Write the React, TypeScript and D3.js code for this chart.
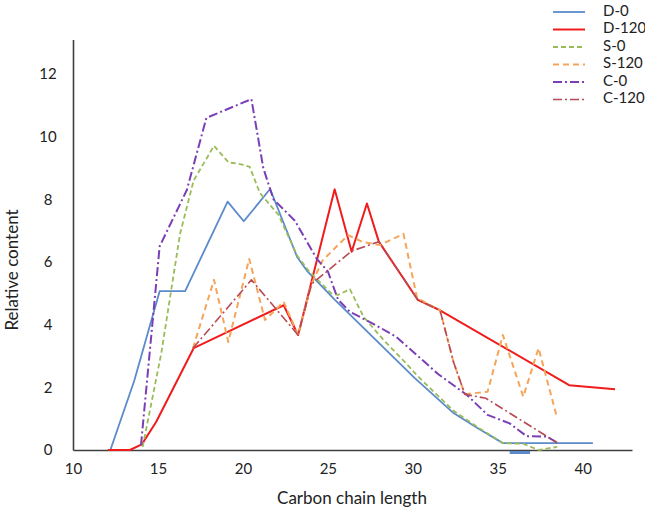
import React, { useRef, useEffect } from 'react';
import * as d3 from 'd3';

// series values: [carbon chain length, relative content]
const d0 = [
  [12.2, 0], [13.6, 2.2], [15.1, 5.07], [16.6, 5.07], [19.1, 7.93], [20.05, 7.3],
  [21.6, 8.33], [23.2, 6.15], [23.8, 5.7], [25.4, 4.8], [30.1, 2.3], [32.35, 1.2],
  [33.8, 0.7], [35.3, 0.22], [40.6, 0.22],
];
const d0Stub = [[35.7, -0.08], [36.9, -0.08]];
const d120 = [
  [12.05, 0], [13.35, 0], [14.05, 0.18], [14.9, 0.9], [17.1, 3.25], [22.4, 4.62],
  [23.25, 3.67], [25.4, 8.32], [26.4, 6.33], [27.3, 7.87], [28.0, 6.65], [30.3, 4.79],
  [31.6, 4.46], [39.2, 2.07], [41.9, 1.94],
];
const s0 = [
  [14.1, 0.1], [15.2, 3.1], [16.3, 6.9], [17.1, 8.6], [18.3, 9.71], [19.15, 9.18],
  [19.9, 9.12], [20.4, 9.04], [21.0, 8.2], [22.1, 7.5], [23.2, 6.2], [23.9, 5.7],
  [25.2, 5.0], [25.6, 4.95], [26.3, 5.13], [27.1, 4.25], [28.3, 3.5], [29.6, 2.77],
  [30.3, 2.35], [32.4, 1.25], [33.9, 0.7], [35.3, 0.22], [36.5, 0.2], [37.4, 0],
  [38.5, 0.1],
];
const s120 = [
  [17.06, 3.25], [18.3, 5.43], [19.14, 3.45], [20.37, 6.1], [21.3, 4.15], [22.4, 4.73],
  [23.25, 3.67], [24.04, 5.3], [24.7, 6.06], [26.2, 6.86], [27.0, 6.65], [28.06, 6.54],
  [29.45, 6.9], [30.25, 4.85], [31.6, 4.46], [32.4, 2.8], [33.06, 1.78], [34.4, 1.86],
  [35.3, 3.67], [36.5, 1.7], [37.4, 3.25], [38.5, 1.01],
];
const c0 = [
  [14.0, 0.15], [15.1, 6.5], [16.7, 8.3], [17.85, 10.6], [20.5, 11.2], [21.2, 9.0],
  [21.8, 8.0], [23.06, 7.32], [24.35, 6.1], [25.0, 5.7], [25.6, 4.8], [26.3, 4.41],
  [27.7, 4.02], [29.0, 3.62], [29.9, 3.19], [31.5, 2.42], [33.2, 1.75], [34.4, 1.12],
  [35.7, 0.85], [36.7, 0.44], [37.9, 0.43], [38.5, 0.23],
];
const c120 = [
  [17.06, 3.25], [20.5, 5.43], [23.25, 3.67], [24.04, 5.3], [26.4, 6.35], [28.0, 6.65],
  [30.3, 4.79], [31.6, 4.46], [32.4, 2.8], [33.06, 1.78], [34.3, 1.65], [38.5, 0.23],
];

const names = ['D-0', 'D-120', 'S-0', 'S-120', 'C-0', 'C-120'];
const seriesData = [d0, d120, s0, s120, c0, c120];
const colors = ['#5b8bcb', '#f01c1c', '#9bbb59', '#f5a55a', '#7a3fb5', '#b84a55'];
const dashes = [null, null, '5,3', '6,4', '9,3,2,3', '9,3,2,3'];
const widths = [1.8, 2, 1.8, 2, 2, 1.6];
const xTicks = [10, 15, 20, 25, 30, 35, 40];
const yTicks = [0, 2, 4, 6, 8, 10, 12];

const width = 645;
const height = 514;
const font = 'Lato, "Open Sans", sans-serif';

const App = () => {
  const ref = useRef(null);

  useEffect(() => {
    document.body.style.margin = '0';
    const svg = d3.select(ref.current);
    svg.selectAll('*').remove();

    const x = d3.scaleLinear().domain([10, 42.9]).range([73, 632]);
    const y = d3.scaleLinear().domain([0, 13.1]).range([450, 39.6]);

    // axes, no tick marks
    const xAxis = svg
      .append('g')
      .attr('transform', `translate(0,${y(0)})`)
      .call(d3.axisBottom(x).tickValues(xTicks).tickSize(0).tickPadding(13));
    const yAxis = svg
      .append('g')
      .attr('transform', `translate(${x(10)},0)`)
      .call(d3.axisLeft(y).tickValues(yTicks).tickSize(0).tickPadding(18));

    [xAxis, yAxis].forEach(a => {
      a.select('.domain').attr('stroke', '#404040').attr('stroke-width', 1.6);
      a.selectAll('text')
        .attr('fill', '#222')
        .style('font-family', font)
        .style('font-size', '15px');
    });
    yAxis.selectAll('text').attr('text-anchor', 'middle').attr('dx', '-7');

    const line = d3
      .line()
      .x(d => x(d[0]))
      .y(d => y(d[1]));

    seriesData.forEach((data, i) => {
      svg
        .append('path')
        .datum(data)
        .attr('d', line)
        .attr('fill', 'none')
        .attr('stroke', colors[i])
        .attr('stroke-width', widths[i])
        .attr('stroke-linejoin', 'round')
        .attr('stroke-dasharray', dashes[i]);
    });

    // short blue piece just under the axis
    svg
      .append('path')
      .datum(d0Stub)
      .attr('d', line)
      .attr('fill', 'none')
      .attr('stroke', colors[0])
      .attr('stroke-width', 3);

    // titles
    svg
      .append('text')
      .attr('x', 352)
      .attr('y', 500)
      .attr('text-anchor', 'middle')
      .attr('dominant-baseline', 'middle')
      .style('font-family', font)
      .style('font-size', '17px')
      .attr('fill', '#222')
      .text('Carbon chain length');

    svg
      .append('text')
      .attr('transform', 'translate(14,270) rotate(-90)')
      .attr('text-anchor', 'middle')
      .attr('dominant-baseline', 'middle')
      .style('font-family', font)
      .style('font-size', '17px')
      .attr('fill', '#222')
      .text('Relative content');

    // legend
    const legend = svg.append('g').attr('transform', 'translate(553,12)');
    names.forEach((name, i) => {
      const row = legend.append('g').attr('transform', `translate(0,${i * 17.5})`);
      row
        .append('line')
        .attr('x1', 0)
        .attr('x2', 32)
        .attr('stroke', colors[i])
        .attr('stroke-width', widths[i])
        .attr('stroke-dasharray', dashes[i]);
      row
        .append('text')
        .attr('x', 50)
        .attr('dominant-baseline', 'middle')
        .style('font-family', font)
        .style('font-size', '15px')
        .attr('fill', '#222')
        .text(name);
    });
  }, []);

  return <svg ref={ref} width={width} height={height} style={{ display: 'block', background: '#fff' }} />;
};

export default App;
